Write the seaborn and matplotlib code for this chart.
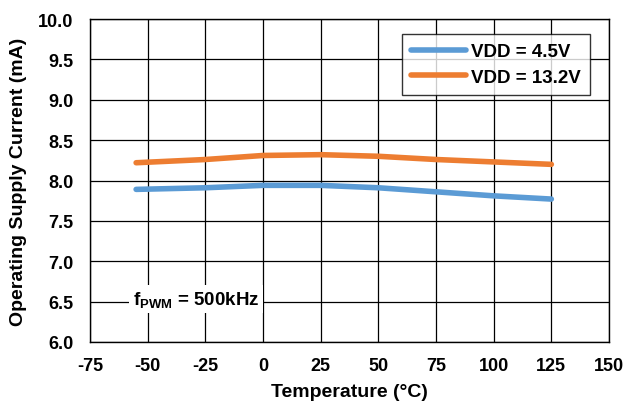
import matplotlib
matplotlib.use("Agg")
import matplotlib.pyplot as plt
import seaborn as sns
import pandas as pd

# --------------------- Data ---------------------
temps = [-55, -40, -25, 0, 25, 50, 75, 100, 125]
vdd_45 = [7.89, 7.90, 7.91, 7.94, 7.94, 7.91, 7.86, 7.81, 7.77]
vdd_132 = [8.22, 8.24, 8.26, 8.31, 8.32, 8.30, 8.26, 8.23, 8.20]
series_names = ["VDD = 4.5V", "VDD = 13.2V"]
colors = ["#5B9BD5", "#ED7D31"]
x_ticks = [-75, -50, -25, 0, 25, 50, 75, 100, 125, 150]
y_ticks = [6.0, 6.5, 7.0, 7.5, 8.0, 8.5, 9.0, 9.5, 10.0]

df = pd.DataFrame({
    "Temperature": temps * 2,
    "Current": vdd_45 + vdd_132,
    "Series": [series_names[0]] * len(temps) + [series_names[1]] * len(temps),
})

sns.set_style("white")
plt.rcParams["font.family"] = ["Liberation Sans", "DejaVu Sans"]
plt.rcParams["font.weight"] = "bold"
plt.rcParams["text.color"] = "black"
plt.rcParams["axes.labelcolor"] = "black"
plt.rcParams["xtick.color"] = "black"
plt.rcParams["ytick.color"] = "black"
plt.rcParams["axes.unicode_minus"] = False
plt.rcParams["mathtext.fontset"] = "custom"
plt.rcParams["mathtext.bf"] = "Liberation Sans:bold"
plt.rcParams["mathtext.rm"] = "Liberation Sans:bold"

fig = plt.figure(figsize=(6.4, 4.02), dpi=100)
ax = fig.add_axes([0.1406, 0.1468, 0.811, 0.8034])

sns.lineplot(data=df, x="Temperature", y="Current", hue="Series",
             palette=colors, linewidth=4, ax=ax, sort=True,
             solid_capstyle="round")

ax.set_xlim(-75, 150)
ax.set_ylim(6.0, 10.0)
ax.set_xticks(x_ticks)
ax.set_yticks(y_ticks)
ax.set_yticklabels([f"{v:.1f}" for v in y_ticks])
ax.tick_params(labelsize=13, length=0)
ax.tick_params(axis="x", pad=11)
ax.tick_params(axis="y", pad=12)
for lab in ax.get_xticklabels() + ax.get_yticklabels():
    lab.set_fontweight("bold")

ax.grid(True, color="black", linewidth=0.9)
ax.set_axisbelow(True)
for s in ax.spines.values():
    s.set_color("black")
    s.set_linewidth(1.0)

ax.set_xlabel("Temperature (°C)", fontsize=14, fontweight="bold", labelpad=6)
ax.set_ylabel("Operating Supply Current (mA)", fontsize=14, fontweight="bold", labelpad=8)

leg = ax.legend(loc="upper right", bbox_to_anchor=(0.963, 0.954), fontsize=13.5,
                frameon=True, fancybox=False, handlelength=2.9,
                borderpad=0.5, labelspacing=0.45, handletextpad=0.27,
                borderaxespad=0)
leg.get_frame().set_edgecolor("black")
leg.get_frame().set_linewidth(1.0)
leg.set_title(None)
for t in leg.get_texts():
    t.set_fontweight("bold")

ax.text(-29, 6.53, r"$\mathbf{f_{PWM}}$ = 500kHz", fontsize=13.5, fontweight="bold",
        ha="center", va="center",
        bbox=dict(facecolor="white", edgecolor="none", pad=3))

plt.savefig("out.png", dpi=100)
